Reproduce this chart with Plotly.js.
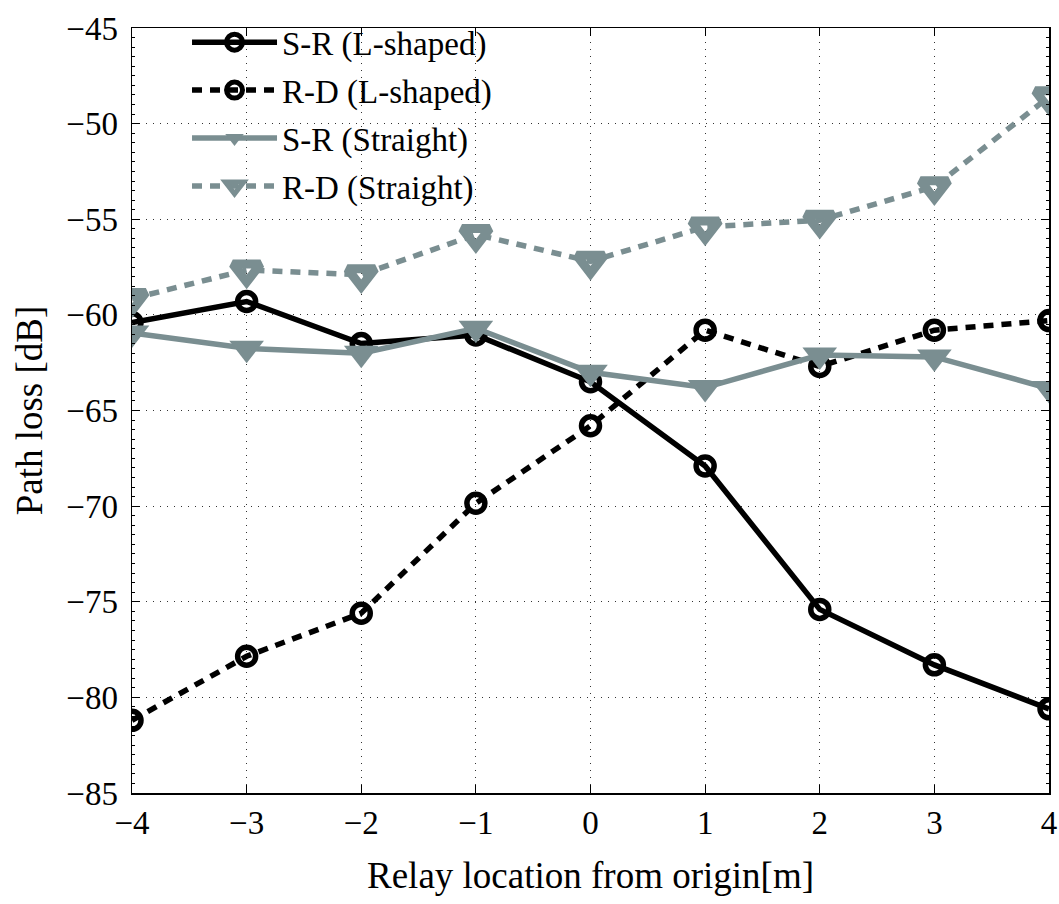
<!DOCTYPE html>
<html>
<head>
<meta charset="utf-8">
<script src="https://cdn.plot.ly/plotly-3.0.1.min.js"></script>
<style>html,body{margin:0;padding:0;background:#fff;}#chart{width:1059px;height:904px;}</style>
</head>
<body>
<div id="chart"></div>
<script>
const relayLocation = [-4, -3, -2, -1, 0, 1, 2, 3, 4];
const srLShaped = [-60.4, -59.3, -61.5, -61.05, -63.5, -67.9, -75.4, -78.3, -80.6];
const rdLShaped = [-81.2, -77.85, -75.6, -69.85, -65.8, -60.8, -62.7, -60.8, -60.3];
const srStraight = [-60.95, -61.75, -62.0, -60.7, -63.0, -63.8, -62.1, -62.2, -63.85];
const rdStraight = [-59.15, -57.65, -57.9, -55.8, -57.2, -55.4, -55.05, -53.3, -48.6];
const seriesNames = ["S-R (L-shaped)", "R-D (L-shaped)", "S-R (Straight)", "R-D (Straight)"];
const xTicks = [-4, -3, -2, -1, 0, 1, 2, 3, 4];
const yTicks = [-85, -80, -75, -70, -65, -60, -55, -50, -45];

const gray = "rgb(122,142,145)";
const dashPat = "10px,8px";

const traces = [
  {x: relayLocation, y: srLShaped, name: seriesNames[0], legendgroup: "a", mode: "lines+markers",
   line: {color: "#000", width: 5.5},
   marker: {symbol: "circle-open", size: 18, color: "#000", line: {width: 5.5, color: "#000"}}},
  {x: relayLocation, y: rdLShaped, name: seriesNames[1], legendgroup: "b", mode: "lines+markers",
   line: {color: "#000", width: 5.5, dash: dashPat},
   marker: {symbol: "circle-open", size: 18, color: "#000", line: {width: 5.5, color: "#000"}}},
  {x: relayLocation, y: srStraight, name: seriesNames[2], legendgroup: "c", mode: "lines+markers",
   line: {color: gray, width: 5.5},
   marker: {symbol: "triangle-down", size: 30, color: gray, line: {width: 0}}},
  {x: relayLocation, y: rdStraight, name: seriesNames[3], legendgroup: "d", mode: "lines+markers",
   line: {color: gray, width: 5.5, dash: dashPat},
   marker: {symbol: "triangle-down-open", size: 24, color: gray, line: {width: 9, color: gray}}}
];

const fontFam = "Liberation Serif";

const layout = {
  width: 1059, height: 904,
  margin: {l: 132, r: 10, t: 28, b: 111},
  paper_bgcolor: "#fff", plot_bgcolor: "#fff",
  font: {family: fontFam, color: "#000", size: 32},
  showlegend: true,
  legend: {
    x: 0.06, y: 1.018, xanchor: "left", yanchor: "top",
    bgcolor: "rgba(0,0,0,0)", borderwidth: 0,
    font: {family: fontFam, size: 33, color: "#000"},
    traceorder: "grouped", tracegroupgap: 2, itemwidth: 85
  },
  xaxis: {
    range: [-4, 4], tickvals: xTicks, ticktext: xTicks.map(v => v < 0 ? "\u2212" + Math.abs(v) : String(v)),
    ticks: "inside", ticklen: 8, tickwidth: 1, tickcolor: "#000",
    showline: true, linecolor: "#000", linewidth: 1.5, mirror: "ticks",
    showgrid: true, gridcolor: "#333", gridwidth: 1, griddash: "1px,6px",
    zeroline: false,
    tickfont: {family: fontFam, size: 33, color: "#000"},
    ticklabelstandoff: 0,
    title: {text: "Relay location from origin[m]", font: {family: fontFam, size: 37, color: "#000"}, standoff: 22}
  },
  yaxis: {
    range: [-85, -45], tickvals: yTicks, ticktext: yTicks.map(v => "\u2212" + Math.abs(v)),
    ticks: "inside", ticklen: 8, tickwidth: 1, tickcolor: "#000",
    showline: true, linecolor: "#000", linewidth: 1.5, mirror: "ticks",
    showgrid: true, gridcolor: "#333", gridwidth: 1, griddash: "1px,6px",
    zeroline: false,
    minor: {dtick: 0.5, ticks: "inside", ticklen: 3, tickcolor: "#000", showgrid: false},
    tickfont: {family: fontFam, size: 33, color: "#000"},
    ticklabelstandoff: 6,
    title: {text: "Path loss [dB]", font: {family: fontFam, size: 37, color: "#000"}, standoff: 12}
  }
};

Plotly.newPlot("chart", traces, layout, {displayModeBar: false, staticPlot: true});
</script>
</body>
</html>
